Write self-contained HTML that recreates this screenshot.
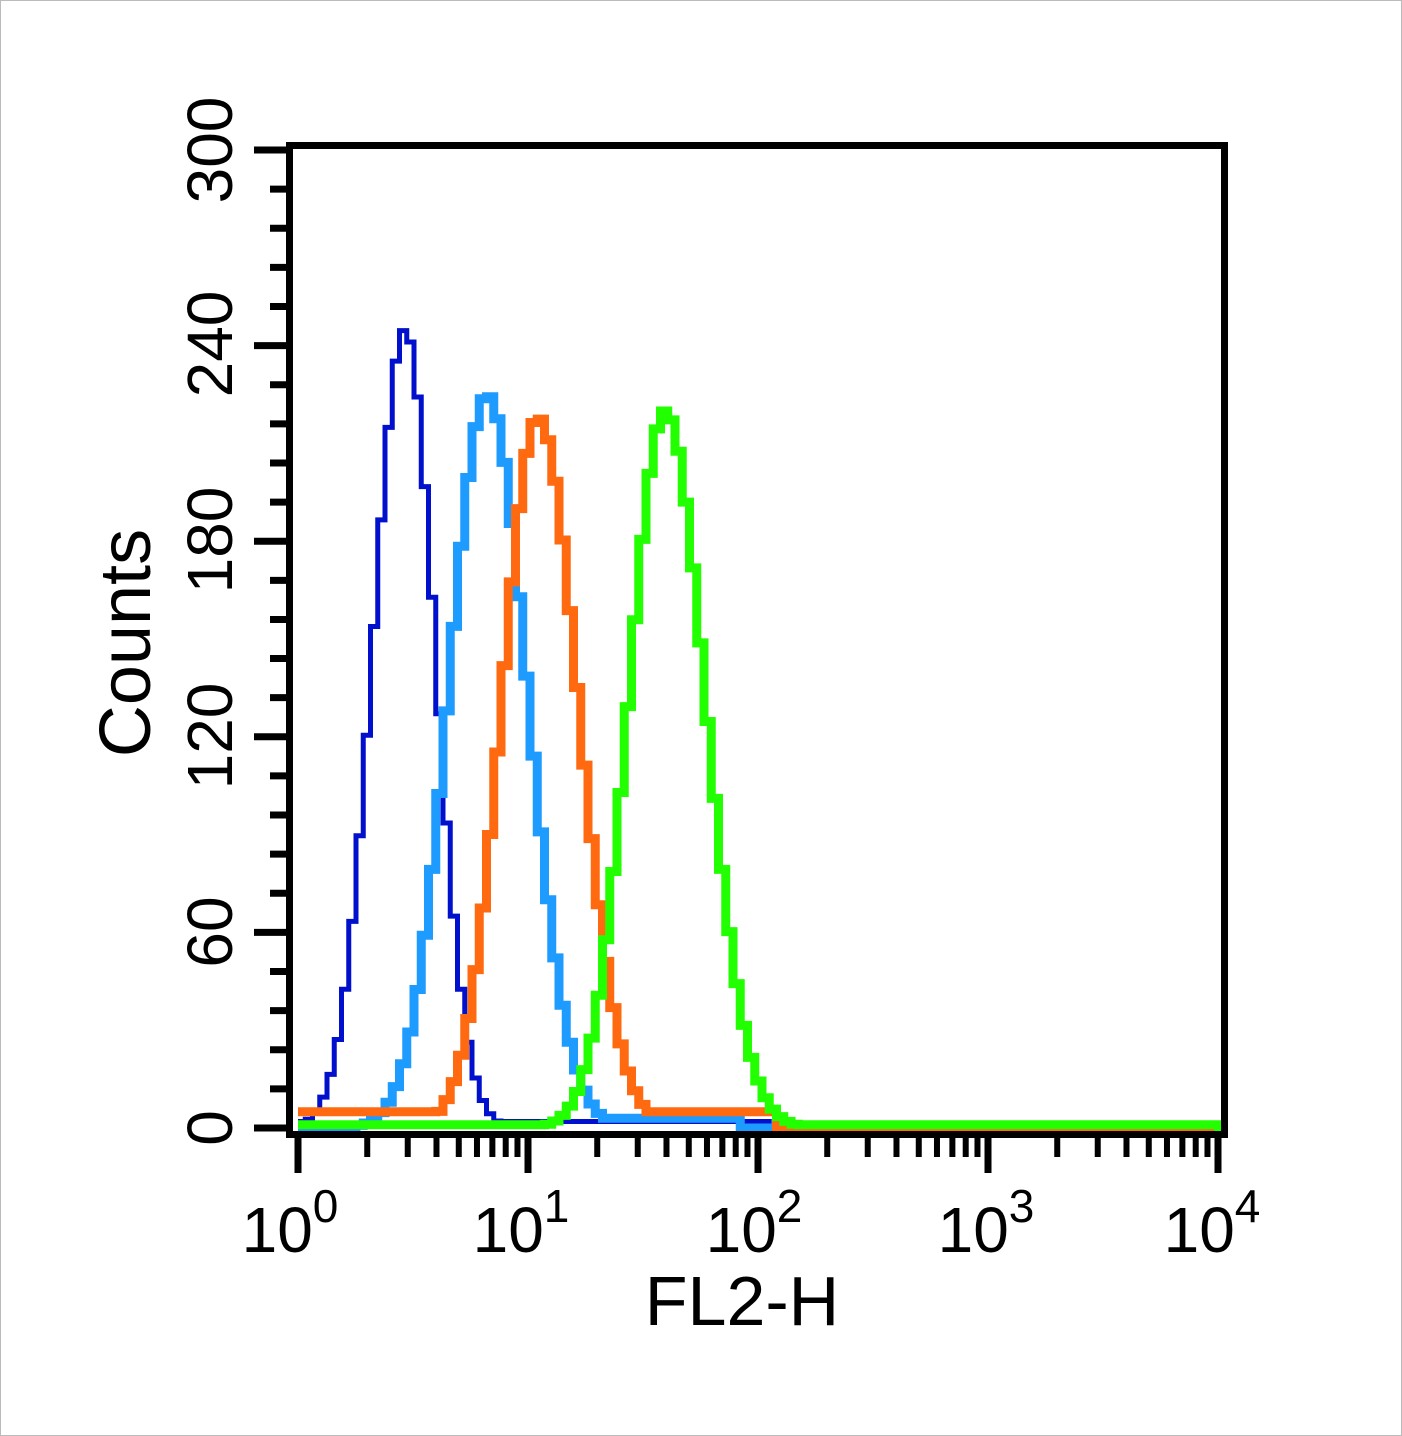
<!DOCTYPE html>
<html><head><meta charset="utf-8"><style>
html,body{margin:0;padding:0;background:#fff}
svg{display:block}
text{font-family:"Liberation Sans",Arial,sans-serif;fill:#000}
</style></head><body>
<svg id="s" width="1402" height="1436" viewBox="0 0 1402 1436" xmlns="http://www.w3.org/2000/svg">
<rect x="0.5" y="0.5" width="1401" height="1435" fill="#fff" stroke="#bbb"/>
<g id="curves"></g>
<g id="axes"></g>
<g font-size="64">
<text transform="translate(232,150) rotate(-90)" text-anchor="middle">300</text>
<text transform="translate(232,344) rotate(-90)" text-anchor="middle">240</text>
<text transform="translate(232,540) rotate(-90)" text-anchor="middle">180</text>
<text transform="translate(232,736) rotate(-90)" text-anchor="middle">120</text>
<text transform="translate(232,932) rotate(-90)" text-anchor="middle">60</text>
<text transform="translate(232,1128) rotate(-90)" text-anchor="middle">0</text>
<text transform="translate(150,643) rotate(-90)" text-anchor="middle" font-size="72">Counts</text>
</g>
<g font-size="64">
<text x="290" y="1252" text-anchor="middle">10<tspan font-size="46" dy="-30">0</tspan></text>
<text x="521" y="1252" text-anchor="middle">10<tspan font-size="46" dy="-30">1</tspan></text>
<text x="754" y="1252" text-anchor="middle">10<tspan font-size="46" dy="-30">2</tspan></text>
<text x="986" y="1252" text-anchor="middle">10<tspan font-size="46" dy="-30">3</tspan></text>
<text x="1212" y="1252" text-anchor="middle">10<tspan font-size="46" dy="-30">4</tspan></text>
<text x="742" y="1325" text-anchor="middle" font-size="70">FL2-H</text>
</g>
</svg>
<script>
(function(){
var NS="http://www.w3.org/2000/svg";
function el(p,t,a){var e=document.createElementNS(NS,t);for(var k in a)e.setAttribute(k,a[k]);p.appendChild(e);return e;}
var cg=document.getElementById('curves'), ag=document.getElementById('axes');
var x0=298,x1=1222,w=7.25,y0=1128,sc=3.26;
function curve(mu,sl,sr,A,col,sw,base,bl,br){
  var d="",first=true;
  for(var x=x0;x<x1;x+=w){
    var c=x+w/2,s=c<mu?sl:sr;
    var v=A*Math.exp(-(c-mu)*(c-mu)/(2*s*s));
    if(base && c>=bl && c<=br) v=Math.max(v,base);
    var y=y0-v*sc;
    if(first){d+="M"+x+" "+y;first=false;} else d+=" V"+y;
    d+=" H"+(x+w);
  }
  el(cg,'path',{d:d,fill:'none',stroke:col,'stroke-width':sw});
}
curve(405,32,30,245,'#0010cc',5,2,298,770);
curve(487,38,40,225,'#1e9bff',9,3,380,740);
curve(538,36,40,218,'#ff6a10',9,5,298,780);
curve(665,36,40,220,'#22ff00',9,1,298,1222);
el(ag,'rect',{x:289.5,y:145.5,width:935,height:989,fill:'none',stroke:'#000','stroke-width':7});
for(var i=0;i<=25;i++){
  var y=y0-i*12*sc;
  var maj=(i%5==0);
  el(ag,'line',{x1:maj?254:270,x2:290,y1:y,y2:y,stroke:'#000','stroke-width':7});
}
var dec=230;
for(var k=0;k<4;k++){
  for(var m=1;m<=10;m++){
    var xx=x0+dec*(k+Math.log10(m));
    var maj=(m==1||m==10);
    el(ag,'line',{x1:xx,x2:xx,y1:1134,y2:maj?1173:1157,stroke:'#000','stroke-width':maj?7:6});
  }
}
})();
</script>
</body></html>
